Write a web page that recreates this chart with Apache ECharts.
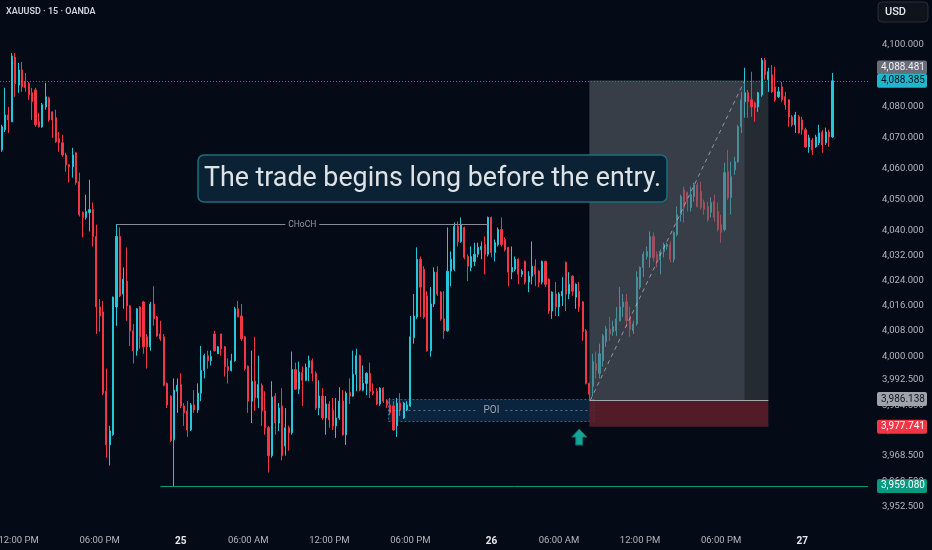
<!DOCTYPE html>
<html><head><meta charset="utf-8">
<script src="https://cdn.jsdelivr.net/npm/echarts@6/dist/echarts.min.js"></script>
<style>html,body{margin:0;padding:0;background:#040b16;}#c{width:932px;height:550px;}</style>
</head><body><div id="c"></div>
<script>
const symbolTitle = 'XAUUSD · 15 · OANDA';
const annotationText = 'The trade begins long before the entry.';
// [open, close, low, high]
const ohlc = [
[4066.0,4073.5,4065.4,4074.1],[4072.5,4077.3,4071.8,4086.1],[4077.3,4075.7,4071.5,4079.9],[4075.1,4096.4,4075.0,4097.4],
[4096.1,4087.4,4083.2,4097.4],[4087.0,4091.9,4084.5,4094.2],[4091.9,4086.4,4084.8,4094.5],[4088.0,4086.1,4084.8,4090.9],
[4087.4,4083.8,4082.2,4088.0],[4084.5,4081.6,4075.7,4086.1],[4085.4,4074.1,4073.5,4086.1],[4075.1,4073.5,4073.2,4078.0],
[4073.5,4080.6,4073.2,4081.2],[4079.9,4083.2,4079.0,4087.7],[4082.8,4075.7,4075.1,4083.2],[4078.3,4075.7,4069.9,4078.5],
[4076.4,4068.6,4068.3,4079.0],[4069.6,4068.3,4065.4,4071.8],[4068.3,4064.4,4063.8,4070.9],[4064.4,4061.2,4059.0,4065.1],
[4061.2,4060.6,4055.5,4061.4],[4060.6,4064.4,4057.1,4066.7],[4065.1,4055.5,4054.8,4065.4],[4055.8,4045.2,4044.6,4058.7],
[4045.9,4044.3,4037.9,4046.2],[4044.3,4046.2,4043.6,4051.6],[4045.9,4046.8,4039.8,4056.4],[4046.8,4038.2,4035.0,4049.1],
[4038.2,4015.7,4007.1,4042.0],[4015.7,4012.8,4007.8,4018.2],[4014.1,3988.3,3987.7,4017.6],[3988.9,3972.0,3968.0,3996.1],
[3972.0,3976.4,3965.5,3978.0],[3975.2,4018.8,3974.9,4019.0],[4015.7,4038.2,4009.7,4042.2],[4038.2,4019.2,4018.8,4041.1],
[4019.8,4024.5,4015.1,4028.3],[4023.9,4016.0,4011.3,4034.7],[4016.0,4008.1,4003.3,4016.3],[4008.1,4001.8,3997.7,4010.3],
[4001.8,4015.1,4000.2,4015.3],[4015.7,4006.2,4002.4,4016.0],[4017.3,4003.0,4000.8,4017.6],[4006.2,4003.0,3996.1,4007.1],
[4003.0,4016.6,4001.8,4017.3],[4016.6,4011.9,4009.7,4022.3],[4012.5,4006.5,4006.2,4012.8],[4007.1,4005.5,4004.9,4011.3],
[4006.2,3990.8,3990.5,4007.1],[3991.4,3984.6,3983.6,3991.7],[3987.4,3973.3,3972.9,3987.7],[3973.6,3989.3,3959.08,3993.0],
[3988.9,3990.8,3982.1,3993.0],[3991.1,3984.3,3983.6,3994.6],[3984.3,3982.1,3978.0,3985.2],[3982.7,3976.7,3974.5,3985.8],
[3976.7,3984.6,3976.4,3985.2],[3984.6,3983.0,3982.1,3989.3],[3983.0,3988.3,3982.1,3991.4],[3988.3,3995.5,3985.8,4003.3],
[3995.5,4000.2,3993.0,4000.8],[4000.2,3998.6,3996.1,4001.8],[3998.6,3999.9,3997.1,4001.8],[4007.1,4001.8,4001.5,4008.1],
[4000.8,4003.0,4000.8,4003.3],[4007.1,4002.4,4000.2,4007.1],[4003.0,3996.8,3993.6,4003.3],[3996.8,3995.5,3991.4,3999.3],
[3995.5,3998.6,3995.2,4000.8],[3998.6,4015.1,3998.3,4015.7],[4015.1,4012.5,4012.4,4017.6],[4012.8,4005.5,4004.9,4016.6],
[4006.2,3996.1,3995.5,4006.5],[3996.8,3985.8,3982.1,3997.1],[3985.8,3992.1,3978.9,4001.8],[3992.1,3986.8,3982.7,4006.2],
[3986.8,3991.1,3983.6,4000.2],[3990.8,3982.7,3978.0,3991.4],[3982.7,3977.4,3975.2,3988.9],[3977.4,3968.6,3963.3,3978.0],
[3968.6,3987.1,3968.0,3992.1],[3987.4,3978.9,3975.2,3988.3],[3978.9,3983.6,3976.4,3985.2],[3984.3,3968.6,3967.1,3989.9],
[3971.7,3977.4,3968.6,3983.6],[3977.4,3975.8,3970.2,3978.0],[3975.8,3995.8,3975.2,4001.5],[3995.8,3989.6,3989.3,3998.0],
[3989.6,3994.9,3988.0,3998.3],[3994.9,3992.4,3984.3,3996.8],[3992.4,3996.5,3992.1,3997.7],[3996.5,3998.6,3992.1,4000.2],
[3998.6,3994.6,3992.1,3999.3],[3994.6,3983.6,3983.0,3995.2],[3983.6,3987.4,3981.4,3992.4],[3987.4,3980.5,3979.9,3989.9],
[3980.5,3984.9,3975.2,3987.4],[3984.9,3979.9,3977.4,3985.8],[3983.0,3978.0,3976.7,3986.8],[3978.0,3980.5,3974.2,3986.8],
[3980.5,3985.8,3979.9,3990.2],[3985.8,3975.2,3974.9,3989.3],[3975.2,3988.3,3972.0,3988.9],[3988.6,3987.4,3984.9,3993.0],
[3987.4,3994.3,3987.2,4001.8],[3994.3,4000.2,3988.9,4002.4],[4000.2,3989.3,3988.9,4000.5],[3989.3,3991.4,3988.9,3997.1],
[3991.4,3994.6,3987.7,3994.9],[3994.6,3988.9,3986.8,3998.0],[3988.9,3988.3,3987.7,3991.4],[3988.9,3984.9,3984.6,3989.9],
[3984.9,3989.9,3984.3,3990.2],[3989.9,3985.8,3985.2,3990.2],[3986.1,3984.6,3983.6,3986.4],[3984.6,3982.1,3981.4,3986.8],
[3984.3,3976.7,3976.4,3985.8],[3978.0,3985.2,3974.5,3986.8],[3985.2,3983.0,3981.1,3988.3],[3980.5,3985.2,3980.2,3985.5],
[3983.0,3984.6,3982.7,3985.8],[3984.3,4006.2,3984.0,4012.8],[4005.9,4012.8,4004.0,4019.8],[4012.5,4030.9,4011.9,4034.7],
[4030.9,4022.0,4012.5,4031.8],[4027.7,4012.5,4011.9,4028.7],[4019.2,4001.8,4001.5,4020.7],[4001.8,4016.6,3999.9,4022.0],
[4016.6,4026.8,4015.7,4028.3],[4026.8,4019.8,4019.2,4028.7],[4020.4,4011.9,4011.3,4020.7],[4011.9,4008.1,4005.5,4020.7],
[4008.1,4027.1,4007.8,4041.1],[4027.1,4030.9,4022.3,4033.4],[4027.7,4041.4,4027.1,4042.7],[4041.4,4036.6,4035.0,4043.0],
[4036.6,4042.0,4036.2,4044.3],[4041.1,4031.5,4030.9,4041.4],[4031.8,4028.7,4023.9,4032.5],[4028.3,4031.8,4027.1,4035.0],
[4030.2,4032.5,4028.7,4036.2],[4032.5,4034.7,4031.5,4036.2],[4034.0,4035.0,4030.9,4036.6],[4035.6,4032.5,4026.1,4038.2],
[4032.5,4044.3,4031.8,4044.6],[4044.3,4033.1,4031.5,4044.6],[4033.1,4036.2,4030.2,4037.2],[4035.6,4040.4,4035.0,4041.1],
[4040.4,4035.6,4035.0,4044.3],[4037.2,4034.0,4033.4,4037.9],[4034.7,4026.8,4022.3,4034.9],[4026.8,4028.3,4024.5,4035.0],
[4027.7,4030.9,4027.1,4031.8],[4030.9,4026.1,4022.9,4031.2],[4026.1,4027.1,4025.2,4027.7],[4030.2,4023.6,4022.9,4030.5],
[4023.6,4025.5,4020.4,4027.1],[4025.5,4028.7,4022.9,4036.6],[4028.7,4026.1,4022.3,4030.9],[4027.1,4023.6,4022.0,4027.4],
[4023.6,4030.2,4022.9,4030.5],[4030.2,4022.9,4022.0,4030.5],[4024.5,4014.4,4013.5,4024.8],[4014.4,4020.4,4011.9,4020.7],
[4019.8,4015.7,4012.8,4023.6],[4015.7,4019.8,4012.8,4020.4],[4019.2,4020.7,4016.0,4025.2],[4029.9,4019.8,4014.4,4030.2],
[4019.8,4022.9,4018.2,4026.8],[4025.5,4020.7,4019.2,4025.8],[4018.8,4022.9,4015.1,4023.2],[4020.7,4015.7,4014.1,4023.6],
[4017.3,4007.8,4004.9,4017.6],[4008.1,3991.4,3991.1,4008.7],[3991.4,3988.0,3986.5,3991.7],[3990.5,3998.3,3987.4,4000.8],
[3997.7,3995.5,3993.0,4001.5],[3994.6,4000.8,3993.0,4004.0],[3998.6,4006.5,3996.8,4007.1],[4004.6,4008.7,4003.0,4009.7],
[4008.7,4007.1,4004.9,4012.5],[4007.8,4009.4,4006.5,4011.3],[4008.1,4011.9,4006.5,4015.7],[4011.3,4015.7,4011.0,4022.0],
[4015.7,4017.3,4012.5,4019.8],[4017.3,4011.3,4009.4,4019.8],[4012.8,4008.7,4006.2,4015.7],[4008.1,4010.3,4007.1,4011.3],
[4010.3,4025.2,4009.7,4027.1],[4022.0,4028.3,4021.3,4028.6],[4028.3,4032.5,4025.2,4033.4],[4031.8,4033.4,4030.9,4035.0],
[4031.5,4038.2,4028.3,4039.8],[4038.2,4031.5,4030.2,4039.5],[4032.5,4030.9,4028.3,4033.4],[4030.9,4033.4,4026.1,4034.0],
[4033.4,4035.6,4031.5,4036.2],[4035.0,4035.6,4034.0,4036.2],[4035.6,4030.9,4029.9,4036.6],[4030.9,4039.5,4029.9,4039.8],
[4038.8,4045.2,4038.2,4047.8],[4045.2,4051.0,4043.0,4051.6],[4053.2,4047.5,4042.7,4054.2],[4052.3,4049.4,4046.2,4052.6],
[4047.5,4051.6,4046.2,4054.2],[4051.0,4054.8,4049.4,4055.5],[4054.8,4047.8,4047.5,4055.5],[4052.6,4047.5,4046.8,4055.8],
[4049.1,4046.8,4045.2,4050.0],[4047.8,4043.6,4043.0,4049.4],[4045.9,4049.1,4044.3,4050.7],[4049.4,4044.3,4043.0,4051.6],
[4046.2,4040.4,4039.8,4049.1],[4042.0,4039.5,4036.2,4045.2],[4040.4,4058.7,4039.8,4061.9],[4059.0,4050.7,4050.0,4066.0],
[4050.7,4057.4,4045.2,4062.2],[4059.6,4062.2,4058.0,4063.8],[4062.2,4073.5,4061.9,4074.1],[4073.5,4082.2,4071.5,4084.8],
[4081.6,4084.5,4076.4,4092.6],[4084.5,4081.6,4076.4,4085.4],[4082.2,4079.9,4076.7,4091.3],[4081.2,4079.6,4075.1,4081.6],
[4079.9,4084.5,4078.3,4084.8],[4083.8,4095.1,4083.2,4095.8],[4095.1,4090.3,4088.7,4095.8],[4088.7,4091.3,4084.8,4092.6],
[4090.3,4084.8,4084.5,4093.5],[4086.4,4082.2,4081.6,4092.9],[4083.2,4084.8,4082.8,4086.4],[4086.4,4082.2,4081.6,4088.0],
[4083.2,4080.6,4079.0,4084.8],[4082.2,4076.7,4073.5,4082.4],[4076.7,4074.1,4073.5,4077.3],[4074.1,4077.3,4071.5,4078.3],
[4076.7,4071.5,4071.3,4077.3],[4075.7,4072.5,4070.9,4076.7],[4072.5,4067.0,4066.7,4073.2],[4067.0,4069.9,4065.1,4070.9],
[4069.2,4066.0,4064.4,4069.9],[4067.0,4070.2,4066.7,4070.9],[4068.3,4071.5,4067.6,4074.1],[4071.8,4067.6,4065.1,4072.5],
[4068.3,4071.8,4067.6,4073.2],[4071.8,4070.2,4067.0,4072.5],[4070.2,4088.385,4069.9,4090.9]
];
const priceTicks = [4100,4090,4080,4070,4060,4050,4040,4032,4024,4016,4008,4000,3992.5,3984.5,3976.5,3968.5,3960.5,3952.5];
const priceMin = 3945.9, priceMax = 4114.65;
const currentPrice = 4088.385;
const targetPrice = 4088.481;
const entryPrice = 3986.138;
const stopPrice = 3977.741;
const swingLowPrice = 3959.08;
const chochPrice = 4042.2;
const poiTop = 3986.5, poiBottom = 3979.6;
const arrowPrice = 3977.3;
// candle indices for drawings
const chochFrom = 34, chochTo = 144;
const poiFrom = 115, poiTo = 175;
const posFrom = 174, posHit = 220, posTo = 227;
const swingLineFrom = 47;
const arrowAt = 171;
const emptySlots = 10;

function buildTimes(n){
  const out=[]; let d=24,h=10,m=45;
  for(let k=0;k<n;k++){
    out.push(d+'|'+h+'|'+m);
    m+=15; if(m===60){m=0;h++;}
    if(h===24){h=0;d++;}
    if(h===1){h=2;}
  }
  return out;
}
const cats = buildTimes(ohlc.length + emptySlots);
const fmt = v => Number(v).toLocaleString('en-US',{minimumFractionDigits:3,maximumFractionDigits:3});
const FONT = 'Roboto, "Noto Sans", sans-serif';

const chart = echarts.init(document.getElementById('c'));
chart.setOption({
  backgroundColor:'#040b16',
  animation:false,
  grid:{left:0,right:64,top:0,bottom:22,containLabel:false,outerBoundsMode:'none'},
  xAxis:{
    type:'category', data:cats, boundaryGap:true,
    axisLine:{show:false}, axisTick:{show:false}, splitLine:{show:false},
    axisLabel:{
      interval:(i,v)=>{const p=v.split('|').map(Number);return p[2]===0&&p[1]%6===0;},
      formatter:(v)=>{const p=v.split('|').map(Number);const h=p[1];
        if(h===0) return '{day|'+p[0]+'}';
        const hh=h%12===0?12:h%12;return String(hh).padStart(2,'0')+':00 '+(h<12?'AM':'PM');},
      color:'#b2b5be', fontSize:9.5, fontFamily:FONT, margin:8, hideOverlap:false,
      rich:{day:{color:'#e6e8ee',fontWeight:'bold',fontSize:10,fontFamily:FONT}}
    }
  },
  yAxis:{
    type:'log', position:'right', min:priceMin, max:priceMax,
    axisLine:{show:false}, axisTick:{show:false}, splitLine:{show:false}, minorTick:{show:false},
    axisLabel:{customValues:priceTicks, formatter:fmt, color:'#b2b5be', fontSize:9.5, fontFamily:FONT, margin:14}
  },
  series:[{
    type:'candlestick', data:ohlc, barWidth:1.6,
    itemStyle:{color:'#26c6da',color0:'#f23645',borderColor:'#26c6da',borderColor0:'#f23645',borderWidth:1}
  }]
});

const X = i => chart.convertToPixel({xAxisIndex:0}, i);
const Y = p => chart.convertToPixel({yAxisIndex:0}, p);
const r5 = v => Math.round(v)+0.5;
const pitch = X(1)-X(0);
const right = X(cats.length-1)+pitch/2;
const els = [];
function hline(x1,x2,y,style,z){els.push({type:'line',z:z,silent:true,shape:{x1:x1,y1:y,x2:x2,y2:y},style:style});}
function text(x,y,t,font,fill,z,align){els.push({type:'text',z:z,x:x,y:y,silent:true,style:{text:t,font:font,fill:fill,textAlign:align||'center',textVerticalAlign:'middle',verticalAlign:'middle'}});}

// current price dotted
hline(0,right,r5(Y(currentPrice)),{stroke:'#2bb7cc',lineWidth:1,lineDash:[1,2],opacity:0.75},5);
// swing low line
hline(X(swingLineFrom),right,r5(Y(swingLowPrice)),{stroke:'#089981',lineWidth:1},5);
// CHoCH
{
  const x1=X(chochFrom), x2=X(chochTo), y=r5(Y(chochPrice)), mid=(x1+x2)/2;
  hline(x1,mid-17,y,{stroke:'#878a94',lineWidth:1},6);
  hline(mid+17,x2,y,{stroke:'#878a94',lineWidth:1},6);
  text(mid,y,'CHoCH','8.5px '+FONT,'#9598a1',6);
}
// POI
{
  const x1=X(poiFrom)-pitch/2, x2=X(poiTo)+pitch/2, y1=r5(Y(poiTop)), y2=r5(Y(poiBottom));
  els.push({type:'rect',z:1,silent:true,shape:{x:x1,y:y1,width:x2-x1,height:y2-y1},style:{fill:'rgba(24,95,150,0.30)',stroke:'rgba(120,150,180,0.55)',lineWidth:1,lineDash:[2,2]}});
  const ym=r5(Y((poiTop+poiBottom)/2)), mid=(x1+x2)/2;
  hline(x1,mid-14,ym,{stroke:'rgba(150,140,160,0.7)',lineWidth:1,lineDash:[2,3]},6);
  hline(mid+14,x2,ym,{stroke:'rgba(150,140,160,0.7)',lineWidth:1,lineDash:[2,3]},6);
  text(mid,ym,'POI','10px '+FONT,'#a3a6af',6);
}
// Position tool
{
  const xs=X(posFrom), xh=X(posHit), xe=X(posTo);
  const yt=Y(targetPrice), ye=Y(entryPrice), yst=Y(stopPrice);
  els.push({type:'rect',z:10,silent:true,shape:{x:xs,y:yt,width:xh-xs,height:ye-yt},style:{fill:'rgba(94,100,108,0.58)'}});
  els.push({type:'rect',z:1,silent:true,shape:{x:xh,y:yt,width:xe-xh,height:ye-yt},style:{fill:'#252b33'}});
  els.push({type:'rect',z:10,silent:true,shape:{x:xs,y:ye,width:xe-xs,height:yst-ye},style:{fill:'rgba(95,30,42,0.85)'}});
  hline(xs,xe,r5(ye),{stroke:'#a3a6af',lineWidth:1},11);
  els.push({type:'line',z:11,silent:true,shape:{x1:xs+1,y1:ye,x2:xh,y2:yt},style:{stroke:'rgba(205,208,215,0.6)',lineWidth:1,lineDash:[4,4]}});
}
// arrow
{
  const cx=X(arrowAt), ty=Y(arrowPrice)+1;
  els.push({type:'polygon',z:12,silent:true,shape:{points:[[cx,ty],[cx+7.5,ty+8],[cx+3.5,ty+8],[cx+3.5,ty+16],[cx-3.5,ty+16],[cx-3.5,ty+8],[cx-7.5,ty+8]]},style:{fill:'#14a596',stroke:'#0c6e66',lineWidth:1}});
}
// annotation box
els.push({type:'rect',z:20,silent:true,shape:{x:198,y:155,width:469,height:47,r:6},style:{fill:'#0b2234',stroke:'#1d6d7a',lineWidth:1.5}});
text(432.5,179,annotationText,'26.8px '+FONT,'#dfe3e8',21);
// price tags
function tag(price,yy,bg,fg){
  els.push({type:'rect',z:50,silent:true,shape:{x:877,y:yy-7,width:50,height:14,r:2},style:{fill:bg}});
  text(881,yy,fmt(price),'10px '+FONT,fg,51,'left');
}
tag(targetPrice,Y(targetPrice)-13,'#6a6d78','#eceef2');
tag(currentPrice,Y(currentPrice),'#22b5cc','#06121b');
tag(entryPrice,Y(entryPrice)-1,'#a0a3ab','#131722');
tag(stopPrice,Y(stopPrice),'#f23645','#ffffff');
tag(swingLowPrice,Y(swingLowPrice),'#089981','#ffffff');
// currency box and header
els.push({type:'rect',z:50,silent:true,shape:{x:878,y:2,width:50,height:20,r:4},style:{fill:'#0e131c',stroke:'#2a2e39',lineWidth:1}});
text(885,12,'USD','500 11px '+FONT,'#e6e8ee',51,'left');
text(6,12,symbolTitle,'600 9px '+FONT,'#d1d4dc',51,'left');

chart.setOption({graphic:{elements:els}});
</script>
</body></html>
